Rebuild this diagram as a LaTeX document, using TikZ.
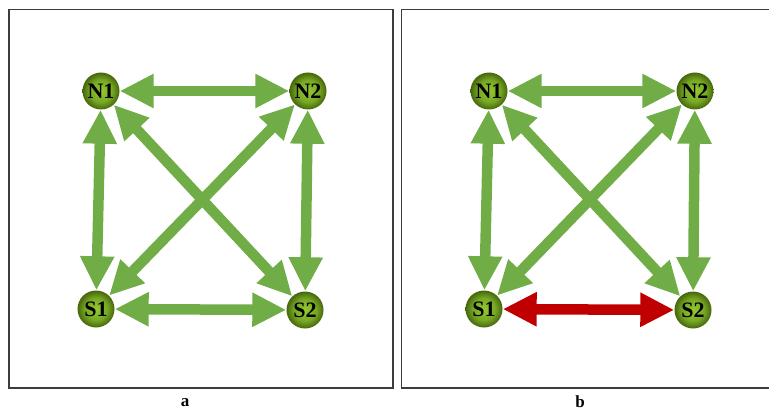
\documentclass[tikz,border=0pt]{standalone}
\usepackage{fontspec}
\setmainfont{Liberation Serif}
\usetikzlibrary{arrows.meta}

\definecolor{linkgreen}{RGB}{112,173,71}
\definecolor{faultred}{RGB}{192,0,0}
\definecolor{stationdark}{RGB}{70,102,12}
\definecolor{stationmid}{RGB}{118,168,36}
\definecolor{stationlight}{RGB}{150,200,50}
\definecolor{framegray}{RGB}{60,60,60}

\pgfdeclareradialshading{stationball}{\pgfpoint{0bp}{0bp}}{%
    color(0bp)=(stationlight); color(15bp)=(stationmid); color(25bp)=(stationdark); color(50bp)=(stationdark)}

\begin{document}
\begin{tikzpicture}[
    x=1pt, y=-1pt,
    station/.style={circle, minimum size=37pt, inner sep=0pt, shading=stationball, font=\fontsize{22}{22}\selectfont\bfseries},
    link/.style={line width=10.5pt, draw=linkgreen, {Triangle[length=34pt, width=32pt]}-{Triangle[length=34pt, width=32pt]}},
    fault/.style={link, draw=faultred},
    frame/.style={draw=framegray, line width=1.3pt},
    caption/.style={font=\fontsize{17}{17}\selectfont\bfseries}
]
    \useasboundingbox (0,0) rectangle (769,412);

    % Frames
    \draw[frame] (9,9.5) rectangle (393,388);
    \draw[frame] (769,9.5) -- (401.5,9.5) -- (401.5,388) -- (769,388);

    % Panel a: stations
    \node[station] (N1a) at (101,91) {N1};
    \node[station] (N2a) at (308,91) {N2};
    \node[station] (S1a) at (96,309) {S1};
    \node[station] (S2a) at (305,310) {S2};

    % Panel a: links
    \draw[link] (N1a) -- (N2a);
    \draw[link] (S1a) -- (S2a);
    \draw[link] (N1a) -- (S1a);
    \draw[link] (N2a) -- (S2a);
    \draw[link] (N1a) -- (S2a);
    \draw[link] (N2a) -- (S1a);

    % Panel b: stations
    \node[station] (N1b) at (489,91) {N1};
    \node[station] (N2b) at (695,91) {N2};
    \node[station] (S1b) at (484,309) {S1};
    \node[station] (S2b) at (693,310) {S2};

    % Panel b: links
    \draw[link] (N1b) -- (N2b);
    \draw[fault] (S1b) -- (S2b);
    \draw[link] (N1b) -- (S1b);
    \draw[link] (N2b) -- (S2b);
    \draw[link] (N1b) -- (S2b);
    \draw[link] (N2b) -- (S1b);

    % Captions
    \node[caption] (capa) at (185,403) {a};
    \node[caption] (capb) at (580,402) {b};

\end{tikzpicture}
\end{document}
